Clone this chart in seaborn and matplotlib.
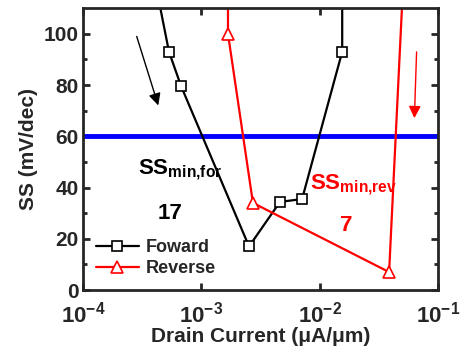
import numpy as np
import pandas as pd
import matplotlib
matplotlib.use("Agg")
import matplotlib.pyplot as plt
import seaborn as sns

# forward sweep (drain current in uA/um, SS in mV/dec)
fwd_current = [3.7e-4, 5.33e-4, 6.73e-4, 2.53e-3, 4.62e-3, 7.1e-3, 1.55e-2, 1.55e-2]
fwd_ss = [130, 93, 79.7, 17, 34.4, 35.5, 93, 150]

# reverse sweep
rev_current = [1.68e-3, 1.68e-3, 2.73e-3, 3.86e-2, 5.2e-2]
rev_ss = [130, 100, 34, 7, 130]

xtick_vals = [1e-4, 1e-3, 1e-2, 1e-1]
xtick_labels = [r"$\mathbf{10^{-4}}$", r"$\mathbf{10^{-3}}$",
                r"$\mathbf{10^{-2}}$", r"$\mathbf{10^{-1}}$"]

fwd = pd.DataFrame({"current": fwd_current, "ss": fwd_ss})
rev = pd.DataFrame({"current": rev_current, "ss": rev_ss})

sns.set_style("ticks")
plt.rcParams["font.family"] = ["Liberation Sans", "DejaVu Sans"]
plt.rcParams["font.weight"] = "bold"
plt.rcParams["mathtext.fontset"] = "custom"
plt.rcParams["mathtext.rm"] = "Liberation Sans:bold"
plt.rcParams["mathtext.bf"] = "Liberation Sans:bold"
plt.rcParams["mathtext.it"] = "Liberation Sans:bold"
plt.rcParams["mathtext.sf"] = "Liberation Sans:bold"
plt.rcParams["mathtext.default"] = "bf"

fig = plt.figure(figsize=(4.66, 3.55), dpi=100)
ax = fig.add_axes([0.178, 0.183, 0.762, 0.794])

ax.axhline(60, color="#0000ff", lw=3.5, zorder=1)

sns.lineplot(data=fwd, x="current", y="ss", sort=False, estimator=None, ax=ax,
             color="black", lw=1.6, marker="s", markersize=7,
             markerfacecolor="white", markeredgecolor="black",
             markeredgewidth=1.2, label="Foward")
sns.lineplot(data=rev, x="current", y="ss", sort=False, estimator=None, ax=ax,
             color="red", lw=1.6, marker="^", markersize=9,
             markerfacecolor="white", markeredgecolor="red",
             markeredgewidth=1.2, label="Reverse")

ax.set_xscale("log")
ax.set_xlim(1e-4, 1e-1)
ax.set_ylim(0, 110)
ax.set_xticks(xtick_vals)
ax.set_xticklabels(xtick_labels)
ax.xaxis.set_minor_locator(matplotlib.ticker.NullLocator())
ax.set_yticks([0, 20, 40, 60, 80, 100])
ax.set_yticks(np.arange(10, 110, 20), minor=True)
ax.tick_params(which="both", direction="in", top=True, right=True, width=2)
ax.tick_params(which="major", length=5, labelsize=15)
ax.tick_params(axis="x", which="major", pad=8, labelsize=16)
ax.tick_params(axis="y", which="major", pad=3)
ax.tick_params(which="minor", length=3)
for s in ax.spines.values():
    s.set_linewidth(2)
for lbl in ax.get_xticklabels() + ax.get_yticklabels():
    lbl.set_fontweight("bold")

ax.set_xlabel("Drain Current (\u03bcA/\u03bcm)", fontsize=15, fontweight="bold", labelpad=0)
ax.set_ylabel("SS (mV/dec)", fontsize=15, fontweight="bold", labelpad=4)

# arrows
ax.annotate("", xy=(4.4e-4, 71), xytext=(2.8e-4, 100),
            arrowprops=dict(arrowstyle="-|>", color="black", lw=1, mutation_scale=18))
ax.annotate("", xy=(0.063, 66), xytext=(0.066, 94),
            arrowprops=dict(arrowstyle="-|>", color="red", lw=1, mutation_scale=18))

ax.text(2.9e-4, 47, r"SS$_{\mathrm{min{,}for}}$", fontsize=16, color="black",
        ha="left", va="center")
ax.text(5.4e-4, 30, "17", fontsize=16, fontweight="bold", color="black",
        ha="center", va="center")
ax.text(8.3e-3, 41, r"SS$_{\mathrm{min{,}rev}}$", fontsize=16, color="red",
        ha="left", va="center")
ax.text(1.67e-2, 25, "7", fontsize=16, fontweight="bold", color="red",
        ha="center", va="center")

ax.legend(loc="lower left", frameon=False, handlelength=2.4, handletextpad=0.4,
          borderaxespad=0.3, labelspacing=0.25, prop={"weight": "bold", "size": 13})

fig.savefig("out.png", dpi=100)
